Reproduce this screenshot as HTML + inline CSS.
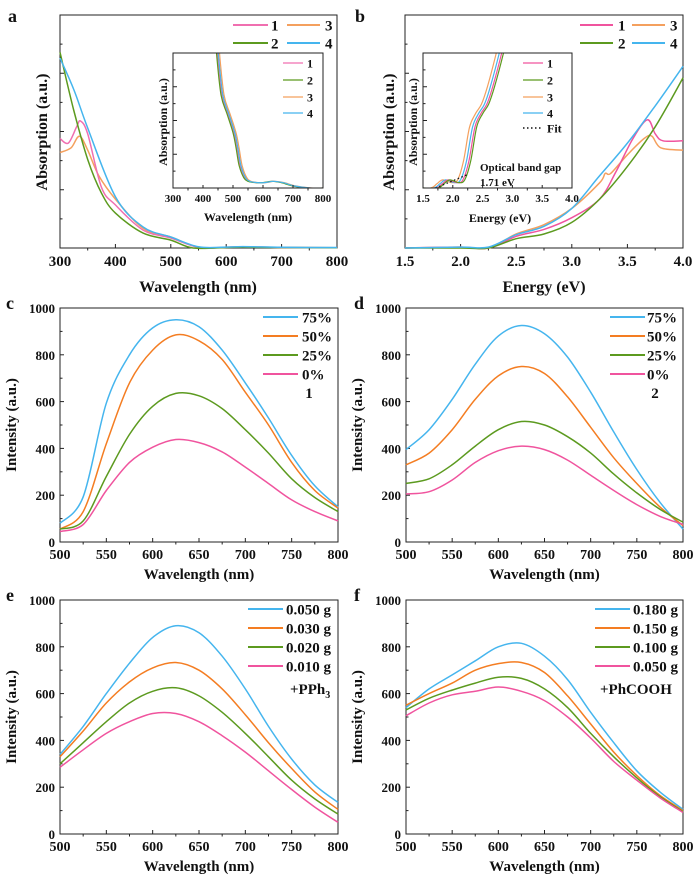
<!DOCTYPE html>
<html><head><meta charset="utf-8"><style>
body{margin:0;background:#fff}
svg text{font-family:"Liberation Serif","Times New Roman",serif;font-weight:bold;fill:#111}
</style></head><body>
<svg id="fig" xmlns="http://www.w3.org/2000/svg" width="700" height="882" viewBox="0 0 700 882"></svg>
<script>
// ---------- DATA ----------
const aX_pink=[300,315,330,337,350,375,400,450,500,550,600,630,700,800];
const aY_pink=[0.47,0.45,0.52,0.545,0.49,0.26,0.185,0.077,0.043,0.003,0.003,0.005,0.002,0.001];
const aX_orange=[300,320,335,350,370,400,450,500,550,600,630,700,800];
const aY_orange=[0.41,0.43,0.48,0.42,0.31,0.21,0.085,0.047,0.003,0.003,0.005,0.002,0.001];
const aX_green=[300,325,350,375,400,450,500,540,600,630,700,800];
const aY_green=[0.84,0.59,0.38,0.235,0.15,0.064,0.034,0.0,0.002,0.004,0.002,0.001];
const aX_blue=[300,325,350,400,450,500,550,600,630,700,800];
const aY_blue=[0.815,0.68,0.515,0.22,0.09,0.047,0.005,0.004,0.006,0.003,0.002];
const aInsetX=[440,445,460,480,500,510,520,535,550,575,600,630,660,700,750,800];
const aInsetY=[1.2,1.0,0.69,0.55,0.41,0.3,0.17,0.08,0.05,0.04,0.04,0.05,0.04,0.015,0.0,0.0];
const aInsetShift=[3,0,10,6];
const bX_pink=[1.5,2.0,2.25,2.5,2.75,3.0,3.25,3.4,3.55,3.68,3.75,3.82,4.0];
const bY_pink=[0,0.004,0.0,0.05,0.08,0.13,0.21,0.33,0.47,0.55,0.49,0.46,0.46];
const bX_orange=[1.5,2.0,2.25,2.5,2.75,3.0,3.25,3.3,3.35,3.5,3.65,3.72,3.8,4.0];
const bY_orange=[0,0.004,0.0,0.06,0.1,0.17,0.28,0.32,0.32,0.4,0.47,0.48,0.43,0.42];
const bX_green=[1.5,2.0,2.25,2.5,2.75,3.0,3.25,3.5,3.75,4.0];
const bY_green=[0,0.0,0.0,0.04,0.06,0.11,0.21,0.35,0.52,0.73];
const bX_blue=[1.5,2.0,2.25,2.5,2.75,3.0,3.25,3.5,3.75,4.0];
const bY_blue=[0,0.004,0.004,0.057,0.093,0.17,0.31,0.45,0.61,0.78];
const bInsetX=[1.5,1.75,1.85,1.95,2.1,2.2,2.3,2.4,2.5,2.6,2.7,2.85,2.95];
const bInsetY=[0,0,0.03,0.06,0.04,0.06,0.2,0.45,0.55,0.62,0.75,1.0,1.2];
const bInsetShift=[-0.03,0,-0.12,-0.07];
const bFitX=[1.71,2.25];
const bFitY=[0,0.1];
const wl=[500,525,550,575,600,625,650,675,700,725,750,775,800];
const c75=[80,193,593,800,915,950,920,820,680,530,370,240,150];
const c50=[55,130,420,680,820,885,860,780,640,500,340,220,145];
const c25=[55,90,280,460,580,635,625,570,480,380,270,190,130];
const c0=[45,75,220,340,405,438,425,385,320,250,180,130,90];
const d75=[395,480,610,760,880,925,890,790,640,470,310,170,55];
const d50=[330,380,480,610,710,750,720,620,490,360,250,150,70];
const d25=[250,270,330,410,480,515,500,450,380,290,210,140,85];
const d0=[205,215,265,340,390,410,395,350,285,220,160,110,75];
const e050=[340,460,600,730,840,890,860,760,620,460,320,210,135];
const e030=[330,440,560,650,710,733,700,620,510,390,280,180,105];
const e020=[300,390,480,560,610,625,590,520,430,330,230,150,85];
const e010=[285,360,430,480,515,515,480,420,350,270,190,115,50];
const f180=[540,620,680,740,800,815,760,660,520,390,270,180,105];
const f150=[550,600,645,700,728,733,690,590,470,350,250,165,100];
const f100=[530,580,615,645,670,665,620,540,430,330,240,160,95];
const f050=[505,560,595,610,628,610,570,500,410,310,230,155,92];
const xTicksWl=[500,550,600,650,700,750,800];
const yTicksI=[0,200,400,600,800,1000];
const aTicks=[300,400,500,600,700,800];
const bTicks=[1.5,2.0,2.5,3.0,3.5,4.0];
const insetBTicks=[1.5,2.0,2.5,3.0,3.5,4.0];

// ---------- DRAW ----------
const NS="http://www.w3.org/2000/svg";
const svg=document.getElementById('fig');
const C={pink:'#f0549e',orange:'#f47d22',green:'#5c9a1f',blue:'#45b5ee',lorange:'#f4a05e',lpink:'#f06fb0'};
function mk(tag,attrs,parent){const e=document.createElementNS(NS,tag);for(const k in attrs)e.setAttribute(k,attrs[k]);(parent||svg).appendChild(e);return e;}
function txt(s,x,y,size,anchor,parent,rot){const t=mk('text',{x:x,y:y,'font-size':size,'text-anchor':anchor||'middle','font-family':'Liberation Serif, Times New Roman, serif','font-weight':'bold'},parent);if(rot)t.setAttribute('transform','rotate(-90 '+x+' '+y+')');t.textContent=s;return t;}
function axis(x0,x1,y0,y1,d0,d1,v0,v1){return {sx:v=>x0+(v-d0)/(d1-d0)*(x1-x0),sy:v=>y1-(v-v0)/(v1-v0)*(y1-y0),x0,x1,y0,y1};}
function smooth(pts){let d='M'+pts[0][0].toFixed(1)+','+pts[0][1].toFixed(1);for(let i=0;i<pts.length-1;i++){const p0=pts[i-1]||pts[i],p1=pts[i],p2=pts[i+1],p3=pts[i+2]||p2;const c1=[p1[0]+(p2[0]-p0[0])/6,p1[1]+(p2[1]-p0[1])/6],c2=[p2[0]-(p3[0]-p1[0])/6,p2[1]-(p3[1]-p1[1])/6];d+='C'+c1[0].toFixed(1)+','+c1[1].toFixed(1)+' '+c2[0].toFixed(1)+','+c2[1].toFixed(1)+' '+p2[0].toFixed(1)+','+p2[1].toFixed(1);}return d;}
function series(ax,xs,ys,color,name,g,w,dash){const pts=xs.map((x,i)=>[ax.sx(x),ax.sy(ys[i])]);const p=mk('path',{d:smooth(pts),fill:'none',stroke:color,'stroke-width':w||1.5},g);if(dash)p.setAttribute('stroke-dasharray',dash);


return p;}
function frame(ax,name,g){const r=mk('rect',{x:ax.x0,y:ax.y0,width:ax.x1-ax.x0,height:ax.y1-ax.y0,fill:'none',stroke:'#222','stroke-width':1},g);

}
function xticks(ax,ticks,fmt,size,g,minor,len){ticks.forEach(t=>{const x=ax.sx(t);mk('line',{x1:x,x2:x,y1:ax.y1,y2:ax.y1-(len||4),stroke:'#222'},g);txt(fmt(t),x,ax.y1+size+3,size,'middle',g);});
if(minor)for(let i=0;i<ticks.length-1;i++){const x=(ax.sx(ticks[i])+ax.sx(ticks[i+1]))/2;mk('line',{x1:x,x2:x,y1:ax.y1,y2:ax.y1+2.5,stroke:'#222'},g);}}
function yticks(ax,ticks,g,labels,size){ticks.forEach(t=>{const y=ax.sy(t);mk('line',{x1:ax.x0,x2:ax.x0+4,y1:y,y2:y,stroke:'#222'},g);if(labels)txt(String(t),ax.x0-5,y+5,size,'end',g);});
for(let i=0;i<ticks.length-1;i++){const y=(ax.sy(ticks[i])+ax.sy(ticks[i+1]))/2;mk('line',{x1:ax.x0,x2:ax.x0+2.5,y1:y,y2:y,stroke:'#222'},g);}}
function legend(g,items,xl,xr,xt,ys,size,name){items.forEach((it,i)=>{const lg=mk('g',{},g);


mk('line',{x1:xl,x2:xr,y1:ys[i],y2:ys[i],stroke:it[1],'stroke-width':it[2]||2,'stroke-dasharray':it[3]||''},lg);txt(it[0],xt,ys[i]+size*0.36,size,'start',lg);});}
function group(name){const g=mk('g',{});


return g;}

{const g=group('panel-a');txt('a',8,22,18,'start',g);
const ax=axis(60,337,15,248,300,800,0,1);frame(ax,'panel-a-frame',g);xticks(ax,aTicks,String,15,g,true,4);yticks(ax,[0,0.25,0.5,0.75,1],g,false);
txt('Wavelength (nm)',198,292,16,'middle',g);txt('Absorption (a.u.)',47,132,16,'middle',g,true);
series(ax,aX_orange,aY_orange,C.lorange,'a-line-3',g);series(ax,aX_pink,aY_pink,C.lpink,'a-line-1',g);series(ax,aX_green,aY_green,C.green,'a-line-2',g);series(ax,aX_blue,aY_blue,C.blue,'a-line-4',g);
legend(g,[['1',C.lpink]],233,268,271,[25],15,'a-legend');legend(g,[['3',C.lorange]],287,320,325,[25],15,'a-legend3');
legend(g,[['2',C.green]],233,268,271,[43],15,'a-legend2');legend(g,[['4',C.blue]],287,320,325,[43],15,'a-legend4');
const ig=group('panel-a-inset');g.appendChild(ig);const ia=axis(173,323,53,188,300,800,0,1);
const cl=mk('clipPath',{id:'ca'},ig);mk('rect',{x:173,y:53,width:150,height:135},cl);
const sg=mk('g',{'clip-path':'url(#ca)'},ig);const cols=[C.lpink,C.green,C.lorange,C.blue];
[2,0,1,3].forEach(i=>series(ia,aInsetX.map(x=>x+aInsetShift[i]),aInsetY,cols[i],'a-inset-line-'+(i+1),sg,1.2));
frame(ia,'a-inset-frame',ig);xticks(ia,aTicks,String,11,ig,true,3);yticks(ia,[0,0.25,0.5,0.75,1],ig,false);
txt('Wavelength (nm)',248,221,12,'middle',ig);txt('Absorption (a.u.)',167,122,12,'middle',ig,true);
legend(ig,[['1',C.lpink,1.3],['2',C.green,1.3],['3',C.lorange,1.3],['4',C.blue,1.3]],283,303,307,[63,80,97,113],12,'a-inset-legend');}

{const g=group('panel-b');txt('b',355,22,18,'start',g);
const ax=axis(405,683,15,248,1.5,4.0,0,1);frame(ax,'panel-b-frame',g);xticks(ax,bTicks,v=>v.toFixed(1),15,g,true,4);yticks(ax,[0,0.25,0.5,0.75,1],g,false);
txt('Energy (eV)',544,292,16,'middle',g);txt('Absorption (a.u.)',394,132,16,'middle',g,true);
series(ax,bX_orange,bY_orange,C.lorange,'b-line-3',g);series(ax,bX_pink,bY_pink,C.pink,'b-line-1',g);series(ax,bX_green,bY_green,C.green,'b-line-2',g);series(ax,bX_blue,bY_blue,C.blue,'b-line-4',g);
legend(g,[['1',C.pink]],580,613,618,[25],15,'b-legend1');legend(g,[['3',C.lorange]],632,665,670,[25],15,'b-legend3');
legend(g,[['2',C.green]],580,613,618,[43],15,'b-legend2');legend(g,[['4',C.blue]],632,665,670,[43],15,'b-legend4');
const ig=group('panel-b-inset');g.appendChild(ig);const ia=axis(423,572,53,188,1.5,4.0,0,1);
mk('rect',{x:423,y:53,width:149,height:135,fill:'#fff'},ig);
const cl=mk('clipPath',{id:'cb'},ig);mk('rect',{x:423,y:53,width:149,height:135},cl);
const sg=mk('g',{'clip-path':'url(#cb)'},ig);const cols=[C.pink,C.green,C.lorange,C.blue];
[2,3,0,1].forEach(i=>series(ia,bInsetX.map(x=>x+bInsetShift[i]),bInsetY,cols[i],'b-inset-line-'+(i+1),sg,1.2));
series(ia,bFitX,bFitY,'#111','b-inset-fit',sg,1.3,'1.5,2.5');
frame(ia,'b-inset-frame',ig);xticks(ia,insetBTicks,v=>v.toFixed(1),11,ig,true,3);yticks(ia,[0,0.25,0.5,0.75,1],ig,false);
txt('Energy (eV)',500,222,12,'middle',ig);txt('Absorption (a.u.)',417,122,12,'middle',ig,true);
legend(ig,[['1',C.pink,1.3],['2',C.green,1.3],['3',C.lorange,1.3],['4',C.blue,1.3],['Fit','#111',1.5,'1.5,2.5']],523,543,547,[63,80,97,113,128],12,'b-inset-legend');
txt('Optical band gap',480,171,11,'start',ig);txt('1.71 eV',480,186,11,'start',ig);}

function ipanel(name,letter,lx,ly,x0,x1,y0,y1,sers,labels,legX,extra){
const g=group(name);txt(letter,lx,ly,18,'start',g);
const ax=axis(x0,x1,y0,y1,500,800,0,1000);frame(ax,name+'-frame',g);
xticks(ax,xTicksWl,String,14,g,true,4);yticks(ax,yTicksI,g,true,13);
txt('Wavelength (nm)',(x0+x1)/2,y1+37,15,'middle',g);txt('Intensity (a.u.)',x0-44,(y0+y1)/2,15,'middle',g,true);
const cols=[C.blue,C.orange,C.green,C.pink];
sers.forEach((s,i)=>series(ax,wl,s,cols[i],name+'-line-'+labels[i],g));
legend(g,labels.map((l,i)=>[l,cols[i]]),legX[0],legX[1],legX[2],[y0+9,y0+28,y0+47,y0+66],15,name+'-legend');
if(extra)extra(g);}
ipanel('panel-c','c',6,309,60,338,308,542,[c75,c50,c25,c0],['75%','50%','25%','0%'],[263,298,302],g=>txt('1',309,398,15,'middle',g));
ipanel('panel-d','d',354,309,406,683,308,542,[d75,d50,d25,d0],['75%','50%','25%','0%'],[610,645,647],g=>txt('2',655,398,15,'middle',g));
ipanel('panel-e','e',6,601,60,338,600,834,[e050,e030,e020,e010],['0.050 g','0.030 g','0.020 g','0.010 g'],[248,283,286],g=>{const t=txt('+PPh',290,694,15,'start',g);const s=mk('tspan',{'font-size':10,dy:4},t);s.textContent='3';});
ipanel('panel-f','f',354,601,406,683,600,834,[f180,f150,f100,f050],['0.180 g','0.150 g','0.100 g','0.050 g'],[595,630,633],g=>txt('+PhCOOH',600,694,15,'start',g));
</script>
</body></html>
